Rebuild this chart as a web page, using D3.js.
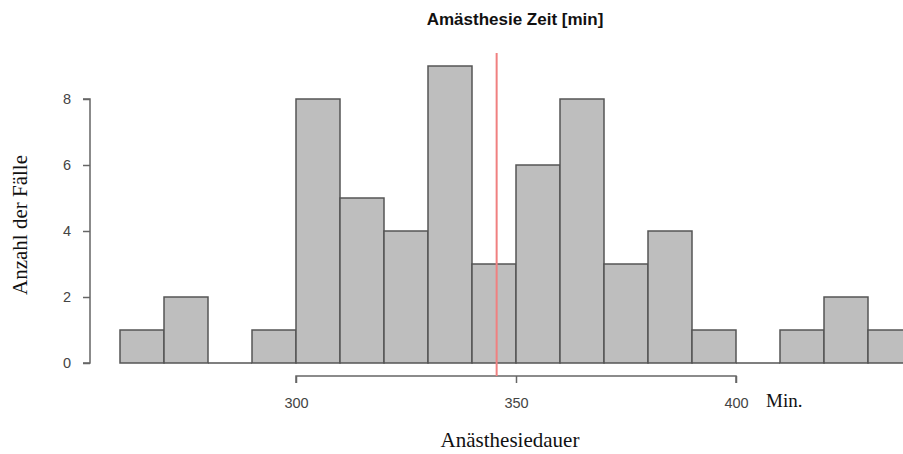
<!DOCTYPE html>
<html><head><meta charset="utf-8">
<script src="https://cdn.jsdelivr.net/npm/d3@7"></script>
<style>body{margin:0;background:#fff}svg{display:block}</style>
</head><body>
<svg id="c" width="903" height="454"></svg>
<script>
const binStarts = [260,270,280,290,300,310,320,330,340,350,360,370,380,390,400,410,420,430];
const counts    = [1,2,0,1,8,5,4,9,3,6,8,3,4,1,0,1,2,1];
const binWidth = 10;
const xTicks = [300,350,400];
const yTicks = [0,2,4,6,8];
const meanValue = 345.6;
const title = "Amästhesie Zeit [min]";
const xLabel = "Anästhesiedauer";
const yLabel = "Anzahl der Fälle";
const unitLabel = "Min.";

const svg = d3.select("#c");
const x = d3.scaleLinear().domain([300,400]).range([296,736]);
const y = d3.scaleLinear().domain([0,8]).range([363,99]);

// bars
svg.append("g").selectAll("rect").data(binStarts).join("rect")
  .attr("x", (d)=>x(d)).attr("width",(d)=>x(d+binWidth)-x(d))
  .attr("y",(d,i)=>y(counts[i])).attr("height",(d,i)=>y(0)-y(counts[i]))
  .attr("fill","#bebebe").attr("stroke","#555").attr("stroke-width",1.5);
// zero-count bins drawn as flat segments
svg.append("g").selectAll("line").data(binStarts.filter((d,i)=>counts[i]===0)).join("line")
  .attr("x1",(d)=>x(d)).attr("x2",(d)=>x(d+binWidth)).attr("y1",y(0)).attr("y2",y(0))
  .attr("stroke","#555").attr("stroke-width",1.5);

// y axis
const yAxis = svg.append("g").attr("transform","translate(90,0)")
  .call(d3.axisLeft(y).tickValues(yTicks).tickSize(7).tickPadding(12).tickFormat(d3.format("d")));
yAxis.select(".domain").attr("d",`M-7,${y(0)}H0V${y(8)}H-7`);
// x axis
const xAxis = svg.append("g").attr("transform","translate(0,376)")
  .call(d3.axisBottom(x).tickValues(xTicks).tickSize(7).tickPadding(15).tickFormat(d3.format("d")));
xAxis.select(".domain").attr("d",`M${x(300)},7V0H${x(400)}V7`);
[yAxis,xAxis].forEach(a=>{
  a.selectAll(".domain,.tick line").attr("stroke","#666").attr("stroke-width",1.5);
  a.selectAll(".tick text").attr("fill","#444").style("font-family","Liberation Sans, Arial, sans-serif").style("font-size","14.5px");
});

// red mean line
svg.append("line").attr("x1",x(meanValue)).attr("x2",x(meanValue))
  .attr("y1",53).attr("y2",376).attr("stroke","#f08080").attr("stroke-width",2);

// texts
svg.append("text").attr("x",515).attr("y",25).attr("text-anchor","middle")
  .style("font-family","Liberation Sans, Arial, sans-serif").style("font-weight","bold").style("font-size","17px")
  .attr("fill","#111").text(title);
svg.append("text").attr("x",510).attr("y",447).attr("text-anchor","middle")
  .style("font-family","Liberation Serif, Times New Roman, serif").style("font-size","21px")
  .attr("fill","#111").text(xLabel);
svg.append("text").attr("transform","translate(27,225) rotate(-90)").attr("text-anchor","middle")
  .style("font-family","Liberation Serif, Times New Roman, serif").style("font-size","21px")
  .attr("fill","#111").text(yLabel);
svg.append("text").attr("x",766).attr("y",407)
  .style("font-family","Liberation Serif, Times New Roman, serif").style("font-size","19px")
  .attr("fill","#111").text(unitLabel);
</script>
</body></html>
